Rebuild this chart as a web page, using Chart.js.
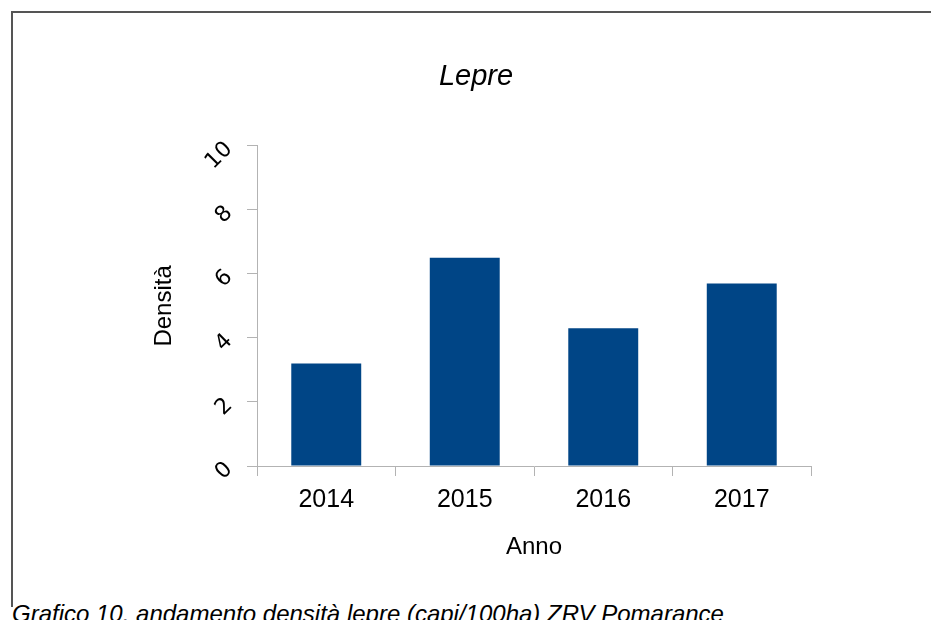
<!DOCTYPE html>
<html>
<head>
<meta charset="utf-8">
<script src="https://cdn.jsdelivr.net/npm/chart.js@4"></script>
<style>
  html, body { margin: 0; padding: 0; background: #fff; overflow: hidden; }
  body { width: 931px; height: 620px; position: relative; }
  #frame {
    position: absolute; left: 11px; top: 11px; width: 940px; height: 594px;
    border-top: 2px solid #555; border-left: 2px solid #555;
  }
  #wrap { position: absolute; left: 0; top: 0; width: 931px; height: 600px; }
  #caption {
    position: absolute; left: 12px; top: 602px; margin: 0;
    font: italic 24px "Liberation Sans", Arial, sans-serif; line-height: 24px;
    color: #000; white-space: nowrap;
  }
</style>
</head>
<body>
<div id="frame"></div>
<div id="wrap"><canvas id="lepreChart"></canvas></div>
<p id="caption">Grafico 10. andamento densità lepre (capi/100ha) ZRV Pomarance</p>
<script>
// data
const years = ['2014', '2015', '2016', '2017'];
const density = [3.2, 6.5, 4.3, 5.7];
const yLabelled = [0, 2, 4, 6, 8, 10];

const axisGrey = '#b3b3b3';

document.addEventListener('DOMContentLoaded', function() {
  const ctx = document.getElementById('lepreChart');
  new Chart(ctx, {
    type: 'bar',
    data: {
      labels: years,
      datasets: [{
        label: 'Densità',
        data: density,
        backgroundColor: '#004586',
        categoryPercentage: 1,
        barPercentage: 0.505
      }]
    },
    options: {
      responsive: true,
      maintainAspectRatio: false,
      animation: false,
      // left padding pushes the title centre over to where it sits in the original
      layout: { padding: { left: 141, right: 120, top: 0, bottom: 0 } },
      plugins: {
        legend: { display: false },
        tooltip: { enabled: false },
        title: {
          display: true,
          text: 'Lepre',
          color: '#000',
          font: { family: 'Liberation Sans', size: 29, style: 'italic', weight: 'normal' },
          padding: { top: 60, bottom: 51 }
        }
      },
      scales: {
        x: {
          grid: { display: true, drawOnChartArea: false, offset: true, color: axisGrey, tickLength: 10 },
          border: { color: axisGrey, width: 1 },
          ticks: {
            color: '#000', padding: 9,
            font: { family: 'Liberation Sans', size: 25 }
          },
          title: {
            display: true, text: 'Anno', color: '#000',
            font: { family: 'Liberation Sans', size: 24 },
            padding: { top: 0, bottom: 38 }
          },
          afterFit: function(scale) { scale.height = 134; }
        },
        y: {
          min: 0, max: 10,
          grid: { display: true, drawOnChartArea: false, color: axisGrey, tickLength: 10 },
          border: { color: axisGrey, width: 1 },
          ticks: {
            stepSize: 1, color: '#000', padding: 18,
            minRotation: 45, maxRotation: 45,
            font: { family: 'DejaVu Sans', size: 22 },
            callback: function(v) { return yLabelled.includes(v) ? v : ''; }
          },
          title: {
            display: true, text: 'Densità', color: '#000',
            font: { family: 'Liberation Sans', size: 24 },
            padding: { top: 9, bottom: 0 }
          },
          afterFit: function(scale) { scale.width = 116; }
        }
      }
    }
  });
});
</script>
</body>
</html>
